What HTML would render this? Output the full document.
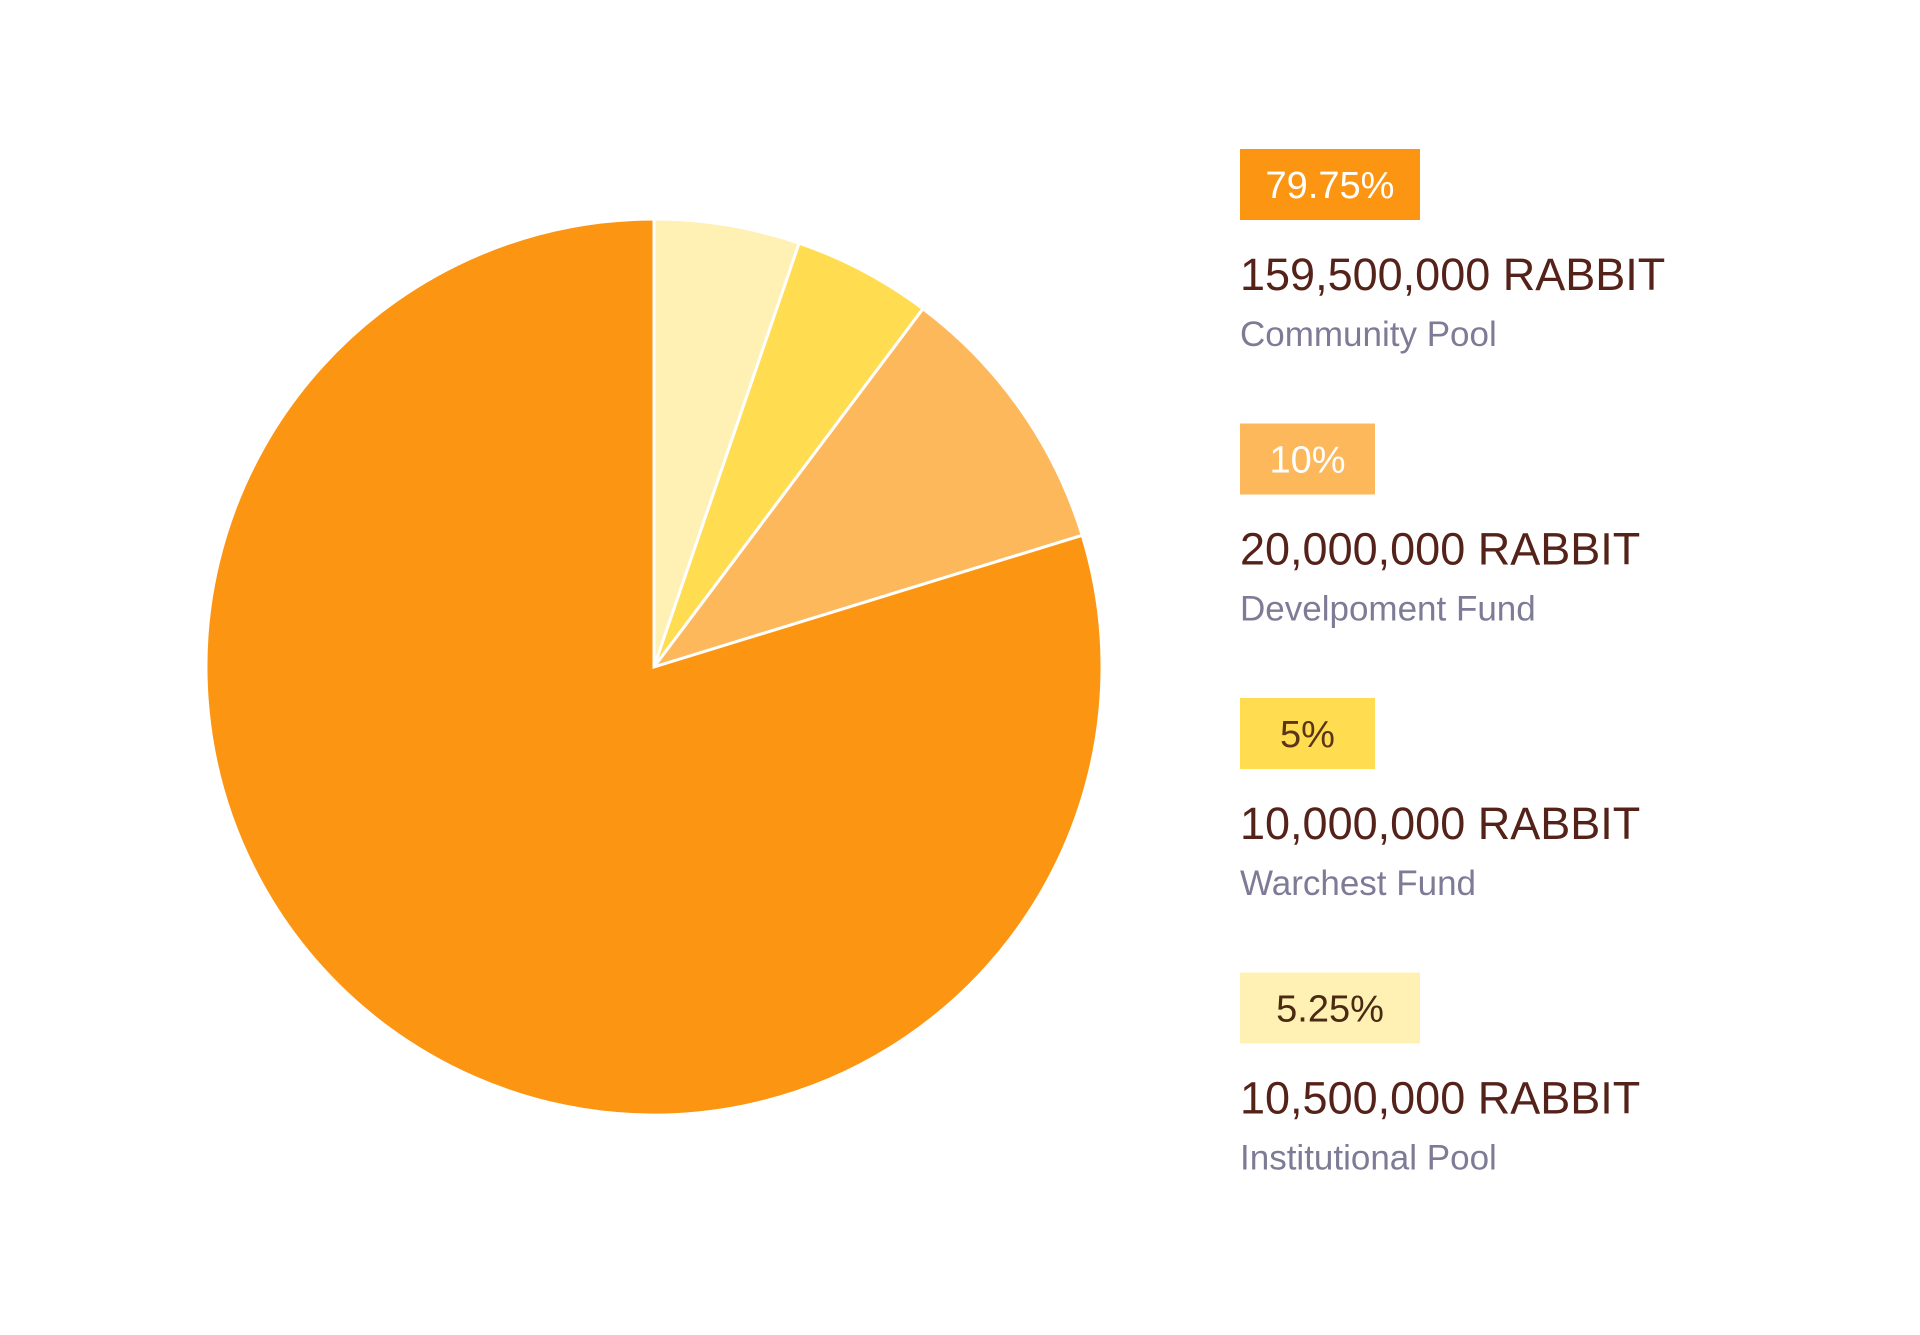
<!DOCTYPE html>
<html><head><meta charset="utf-8"><style>
html,body{margin:0;padding:0;background:#fff;}
svg{display:block;font-family:"Liberation Sans",sans-serif;}
</style></head><body>
<svg id="chart" width="1920" height="1335" viewBox="0 0 1920 1335" xmlns="http://www.w3.org/2000/svg">
<rect width="1920" height="1335" fill="#fff"/>
<g id="pie"></g>
<g id="legend"></g>
</svg>
<script>
const categories = ["Institutional Pool", "Warchest Fund", "Develpoment Fund", "Community Pool"];
const percents = [5.25, 5, 10, 79.75];
const percentLabels = ["5.25%", "5%", "10%", "79.75%"];
const amounts = ["10,500,000 RABBIT", "10,000,000 RABBIT", "20,000,000 RABBIT", "159,500,000 RABBIT"];
const colors = ["#FFF0B3", "#FFDC50", "#FDB85C", "#FC9512"];
const labelColors = ["#4a2a12", "#5a3518", "#ffffff", "#ffffff"];
const legendOrder = [3, 2, 1, 0];

const NS = "http://www.w3.org/2000/svg";
const cx = 654, cy = 667, r = 448;
const total = percents.reduce((a, b) => a + b, 0);
function angleOf(v) { return v / total * Math.PI * 2; }
function pt(a) { return [cx + r * Math.sin(a), cy - r * Math.cos(a)]; }

const pie = document.getElementById('pie');
let acc = 0;
percents.forEach((v, i) => {
  const a0 = angleOf(acc), a1 = angleOf(acc + v);
  acc += v;
  const p0 = pt(a0), p1 = pt(a1);
  const large = (a1 - a0) > Math.PI ? 1 : 0;
  const path = document.createElementNS(NS, 'path');
  path.setAttribute('d', `M${cx},${cy} L${p0[0]},${p0[1]} A${r},${r} 0 ${large} 1 ${p1[0]},${p1[1]} Z`);
  path.setAttribute('fill', colors[i]);
  path.setAttribute('stroke', '#fff');
  path.setAttribute('stroke-width', '3');
  
  
  pie.appendChild(path);
});

const legend = document.getElementById('legend');
legendOrder.forEach((idx, k) => {
  const y0 = 149 + k * 274.5;
  const g = document.createElementNS(NS, 'g');
  
  
  const w = percentLabels[idx].length > 3 ? 180 : 135;
  const rect = document.createElementNS(NS, 'rect');
  rect.setAttribute('x', 1240); rect.setAttribute('y', y0);
  rect.setAttribute('width', w); rect.setAttribute('height', 71);
  rect.setAttribute('fill', colors[idx]);
  
  
  g.appendChild(rect);
  const t1 = document.createElementNS(NS, 'text');
  t1.setAttribute('x', 1240 + w / 2); t1.setAttribute('y', y0 + 49);
  t1.setAttribute('text-anchor', 'middle');
  t1.setAttribute('font-size', '38'); t1.setAttribute('fill', labelColors[idx]);
  
  
  t1.textContent = percentLabels[idx];
  g.appendChild(t1);
  const t2 = document.createElementNS(NS, 'text');
  t2.setAttribute('x', 1240); t2.setAttribute('y', y0 + 141);
  t2.setAttribute('font-size', '45'); t2.setAttribute('fill', '#55221a');
  
  
  t2.textContent = amounts[idx];
  g.appendChild(t2);
  const t3 = document.createElementNS(NS, 'text');
  t3.setAttribute('x', 1240); t3.setAttribute('y', y0 + 197);
  t3.setAttribute('font-size', '35'); t3.setAttribute('fill', '#7e7b96');
  
  
  t3.textContent = categories[idx];
  g.appendChild(t3);
  legend.appendChild(g);
});
</script>
</body></html>
